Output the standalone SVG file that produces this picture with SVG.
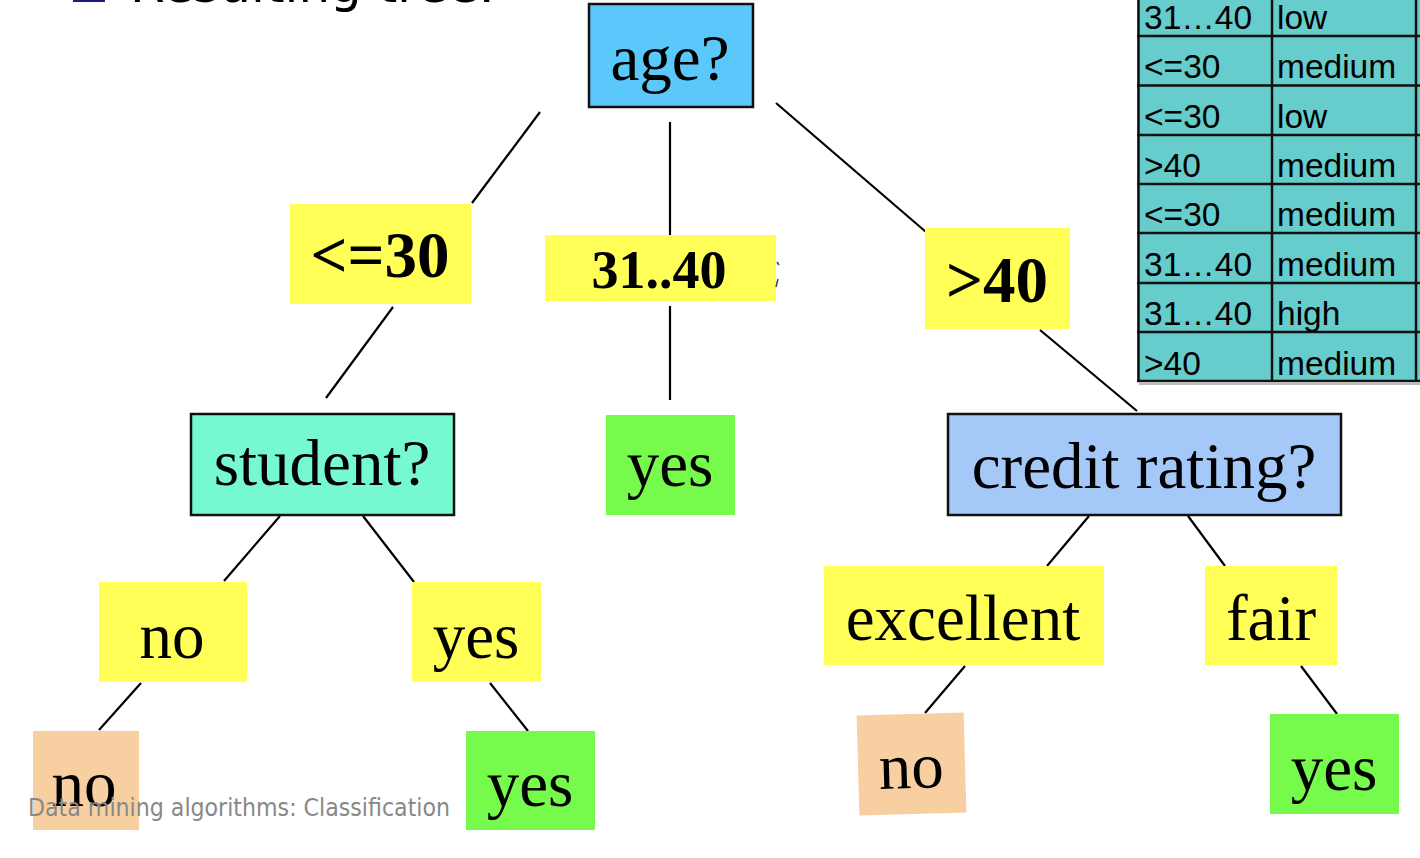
<svg xmlns="http://www.w3.org/2000/svg" width="1420" height="858" viewBox="0 0 1420 858">
<style>
.conn line{stroke:#000;stroke-width:2.2;fill:none}
.box{stroke:#111;stroke-width:2.5}
.serif{font-family:"Liberation Serif","Times New Roman",serif;font-size:65px;fill:#000;text-anchor:middle}
.bold{font-family:"Liberation Serif","Times New Roman",serif;font-weight:bold;fill:#000;text-anchor:middle}
.yel{fill:#FFFF57}
.grn{fill:#76FB4C}
.org{fill:#F7CFA1}
.tt{font-family:"Liberation Sans",Arial,sans-serif;font-size:33.5px;fill:#000}
.tl{stroke:#111;stroke-width:2.5}
</style>
<rect width="1420" height="858" fill="#fff"/>
<g id="title">
<rect x="74" y="-30" width="30" height="31" fill="none" stroke="#1a1a80" stroke-width="2"/>
<text x="130" y="2" font-family="DejaVu Sans,Verdana,sans-serif" font-size="50" fill="#000">Resulting tree:</text>
</g>
<g id="table">
<rect x="1137" y="-20" width="290" height="401" fill="#66CCCC"/>
<line class="tl" x1="1138.5" y1="-20" x2="1138.5" y2="382" stroke-width="3"/>
<line class="tl" x1="1272" y1="-20" x2="1272" y2="382"/>
<line class="tl" x1="1416" y1="-20" x2="1416" y2="382"/>
<line class="tl" x1="1137" y1="36" x2="1420" y2="36"/>
<line class="tl" x1="1137" y1="85.5" x2="1420" y2="85.5"/>
<line class="tl" x1="1137" y1="135" x2="1420" y2="135"/>
<line class="tl" x1="1137" y1="184" x2="1420" y2="184"/>
<line class="tl" x1="1137" y1="233" x2="1420" y2="233"/>
<line class="tl" x1="1137" y1="283" x2="1420" y2="283"/>
<line class="tl" x1="1137" y1="332" x2="1420" y2="332"/>
<line class="tl" x1="1137" y1="381" x2="1420" y2="381" stroke-width="3"/>
<line x1="1139" y1="384" x2="1420" y2="384" stroke="#bbb" stroke-width="2"/>
<text class="tt" x="1144" y="29">31…40</text><text class="tt" x="1277" y="29">low</text>
<text class="tt" x="1144" y="78">&lt;=30</text><text class="tt" x="1277" y="78">medium</text>
<text class="tt" x="1144" y="127.5">&lt;=30</text><text class="tt" x="1277" y="127.5">low</text>
<text class="tt" x="1144" y="177">&gt;40</text><text class="tt" x="1277" y="177">medium</text>
<text class="tt" x="1144" y="226">&lt;=30</text><text class="tt" x="1277" y="226">medium</text>
<text class="tt" x="1144" y="275.5">31…40</text><text class="tt" x="1277" y="275.5">medium</text>
<text class="tt" x="1144" y="325">31…40</text><text class="tt" x="1277" y="325">high</text>
<text class="tt" x="1144" y="374.5">&gt;40</text><text class="tt" x="1277" y="374.5">medium</text>
</g>
<g id="connectors" class="conn">
<line x1="540" y1="112" x2="472" y2="203"/>
<line x1="393" y1="307" x2="326" y2="398"/>
<line x1="670" y1="122" x2="670" y2="236"/>
<line x1="670" y1="306" x2="670" y2="400"/>
<line x1="776" y1="103" x2="926" y2="232"/>
<line x1="1040" y1="330" x2="1137" y2="411"/>
<line x1="280" y1="516" x2="224" y2="581"/>
<line x1="363" y1="516" x2="414" y2="582"/>
<line x1="141" y1="683" x2="99" y2="730"/>
<line x1="490" y1="683" x2="528" y2="731"/>
<line x1="1089" y1="516" x2="1047" y2="566"/>
<line x1="1188" y1="516" x2="1225" y2="566"/>
<line x1="965" y1="666" x2="925" y2="713"/>
<line x1="1301" y1="666" x2="1337" y2="714"/>
</g>
<g id="node-age">
<rect class="box" x="589" y="4" width="164" height="103" fill="#5AC8FA"/>
<text class="serif" x="670" y="80">age?</text>
</g>
<g id="label-le30">
<rect class="yel" x="290" y="204" width="181" height="100"/>
<text class="bold" x="380" y="277" font-size="65">&lt;=30</text>
</g>
<g id="label-31-40">
<rect class="yel" x="545" y="235" width="231" height="66"/>
<text class="bold" x="659" y="288" font-size="54">31..40</text>
<path d="M777 262 l2 3 M778 279 l-2 8" stroke="#444" stroke-width="1.5" fill="none"/>
</g>
<g id="label-gt40">
<rect class="yel" x="925" y="228" width="145" height="101"/>
<text class="bold" x="997" y="302" font-size="65">&gt;40</text>
</g>
<g id="node-student">
<rect class="box" x="191" y="414" width="263" height="101" fill="#76F9D2"/>
<text class="serif" x="322" y="485">student?</text>
</g>
<g id="leaf-yes-mid">
<rect class="grn" x="606" y="415" width="129" height="100"/>
<text class="serif" x="670" y="486">yes</text>
</g>
<g id="node-credit">
<rect class="box" x="948" y="414" width="393" height="101" fill="#A4C8F7"/>
<text class="serif" x="1144" y="488">credit rating?</text>
</g>
<g id="label-no">
<rect class="yel" x="99" y="582" width="148" height="100"/>
<text class="serif" x="172" y="658">no</text>
</g>
<g id="label-yes">
<rect class="yel" x="412" y="582" width="129" height="100"/>
<text class="serif" x="476" y="658">yes</text>
</g>
<g id="label-excellent">
<rect class="yel" x="824" y="566" width="280" height="99"/>
<text class="serif" x="963" y="640">excellent</text>
</g>
<g id="label-fair">
<rect class="yel" x="1205" y="566" width="132" height="99"/>
<text class="serif" x="1271" y="640">fair</text>
</g>
<g id="leaf-no-left">
<rect class="org" x="33" y="731" width="106" height="99"/>
<text class="serif" x="84" y="806">no</text>
</g>
<g id="leaf-yes-left">
<rect class="grn" x="466" y="731" width="129" height="99"/>
<text class="serif" x="530" y="806">yes</text>
</g>
<g id="leaf-no-right" transform="rotate(-1.6 911 764)">
<rect class="org" x="858" y="714" width="107" height="100"/>
<text class="serif" x="911" y="788">no</text>
</g>
<g id="leaf-yes-right">
<rect class="grn" x="1270" y="714" width="129" height="100"/>
<text class="serif" x="1334" y="790">yes</text>
</g>
<g id="footer">
<text x="28" y="816" font-family="DejaVu Sans,Verdana,sans-serif" font-stretch="condensed" font-size="24.6" fill="#888">Data mining algorithms: Classification</text>
</g>
</svg>
